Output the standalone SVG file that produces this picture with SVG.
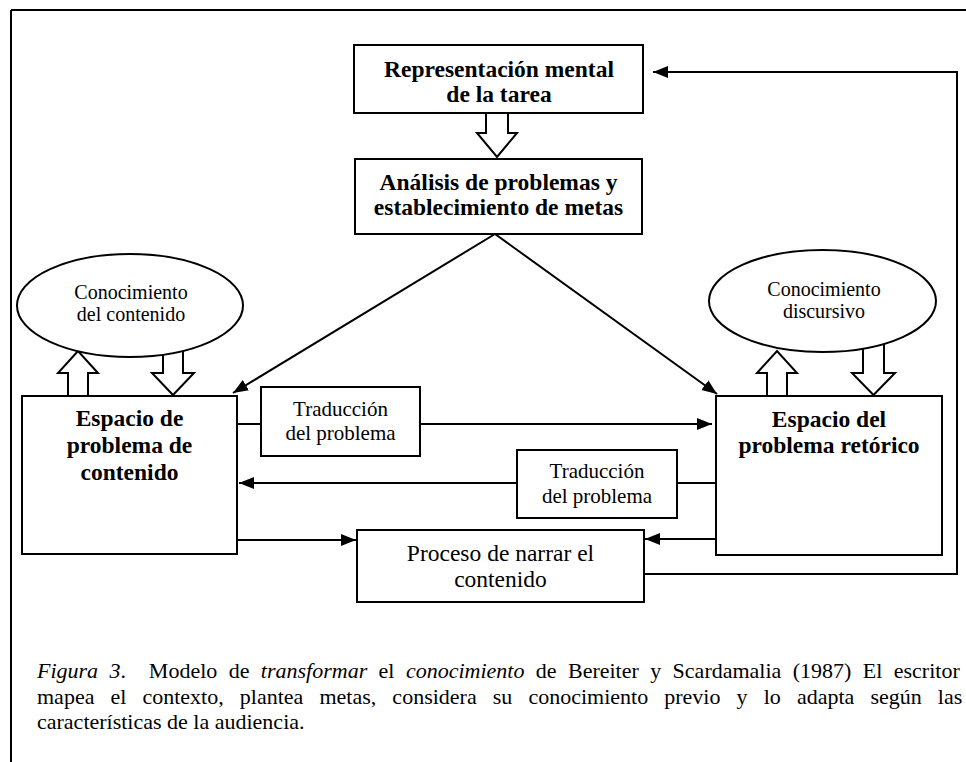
<svg xmlns="http://www.w3.org/2000/svg" width="966" height="762" viewBox="0 0 966 762">
<style>
.box{fill:#fff;stroke:#000;stroke-width:2}
.ell{fill:#fff;stroke:#000;stroke-width:2}
.ln{fill:none;stroke:#000;stroke-width:2}
.hol{fill:#fff;stroke:#000;stroke-width:2;stroke-linejoin:miter}
.b{font-family:"Liberation Serif","Times New Roman",serif;font-weight:bold;font-size:23.5px;text-anchor:middle}
.r{font-family:"Liberation Serif","Times New Roman",serif;font-size:21px;text-anchor:middle}
.e{font-family:"Liberation Serif","Times New Roman",serif;font-size:20px;text-anchor:middle}
.rl{font-family:"Liberation Serif","Times New Roman",serif;font-size:23.5px;text-anchor:middle}
.cap{font-family:"Liberation Serif","Times New Roman",serif;font-size:22px}
.i{font-style:italic}
</style>
<defs>
<marker id="ah" markerUnits="userSpaceOnUse" markerWidth="16" markerHeight="14" refX="15" refY="7" orient="auto">
<path d="M0,1 L15,7 L0,13 Z" fill="#000"/>
</marker>
</defs>
<g id="frame">
<line class="ln" x1="11" y1="10" x2="966" y2="10"/>
<line class="ln" x1="11" y1="10" x2="11" y2="762"/>
</g>
<g id="connectors">
<polygon class="hol" points="486,113 508,113 508,133 517,133 497,157 477,133 486,133"/>
<polygon class="hol" points="68,396 68,373 58,373 78,351 98,373 88,373 88,396"/>
<polygon class="hol" points="163,340 183,340 183,373 194,373 173,395 152,373 163,373"/>
<polygon class="hol" points="767,396 767,373 757,373 777,351 797,373 787,373 787,396"/>
<polygon class="hol" points="863,335 884,335 884,373 895,373 873.5,395 852,373 863,373"/>
<line class="ln" x1="495" y1="234" x2="233" y2="393" marker-end="url(#ah)"/>
<line class="ln" x1="495" y1="234" x2="717" y2="394" marker-end="url(#ah)"/>
<line class="ln" x1="237" y1="424" x2="261" y2="424"/>
<line class="ln" x1="420" y1="424" x2="712" y2="424" marker-end="url(#ah)"/>
<line class="ln" x1="716" y1="483" x2="677" y2="483"/>
<line class="ln" x1="517" y1="483" x2="239" y2="483" marker-end="url(#ah)"/>
<line class="ln" x1="237" y1="540" x2="356" y2="540" marker-end="url(#ah)"/>
<line class="ln" x1="716" y1="539" x2="645" y2="539" marker-end="url(#ah)"/>
<polyline class="ln" points="644,574 957,574 957,72 653,72" marker-end="url(#ah)"/>
</g>
<g id="representacion">
<rect class="box" x="354" y="45" width="289" height="68"/>
<text class="b" x="499" y="77">Representación mental</text>
<text class="b" x="499" y="102">de la tarea</text>
</g>
<g id="analisis">
<rect class="box" x="355" y="159" width="287" height="75"/>
<text class="b" x="498.5" y="190">Análisis de problemas y</text>
<text class="b" x="498.5" y="215">establecimiento de metas</text>
</g>
<g id="conocimiento-contenido">
<ellipse class="ell" cx="130" cy="305.5" rx="113" ry="51.5"/>
<text class="e" x="131" y="299">Conocimiento</text>
<text class="e" x="131" y="321">del contenido</text>
</g>
<g id="conocimiento-discursivo">
<ellipse class="ell" cx="822.5" cy="301" rx="113.5" ry="51"/>
<text class="e" x="824" y="296">Conocimiento</text>
<text class="e" x="824" y="318">discursivo</text>
</g>
<g id="espacio-contenido">
<rect class="box" x="22" y="396" width="215" height="158"/>
<text class="b" x="129.5" y="426">Espacio de</text>
<text class="b" x="129.5" y="453">problema de</text>
<text class="b" x="129.5" y="480">contenido</text>
</g>
<g id="espacio-retorico">
<rect class="box" x="716" y="396" width="226" height="159"/>
<text class="b" x="829" y="427">Espacio del</text>
<text class="b" x="829" y="453">problema retórico</text>
</g>
<g id="traduccion-1">
<rect class="box" x="261" y="387" width="159" height="69"/>
<text class="r" x="340.5" y="416">Traducción</text>
<text class="r" x="340.5" y="440">del problema</text>
</g>
<g id="traduccion-2">
<rect class="box" x="517" y="450" width="160" height="68"/>
<text class="r" x="597" y="478">Traducción</text>
<text class="r" x="597" y="503">del problema</text>
</g>
<g id="proceso">
<rect class="box" x="357" y="530" width="287" height="72"/>
<text class="rl" x="500.5" y="561">Proceso de narrar el</text>
<text class="rl" x="500.5" y="587">contenido</text>
</g>
<g id="caption">
<text class="cap" x="37" y="678" xml:space="preserve" word-spacing="5.9"><tspan class="i">Figura 3</tspan>.  Modelo de <tspan class="i">transformar</tspan> el <tspan class="i">conocimiento</tspan> de Bereiter y Scardamalia (1987) El escritor</text>
<text class="cap" x="37" y="704" word-spacing="10.6">mapea el contexto, plantea metas, considera su conocimiento previo y lo adapta según las</text>
<text class="cap" x="37" y="729">características de la audiencia.</text>
</g>
</svg>
